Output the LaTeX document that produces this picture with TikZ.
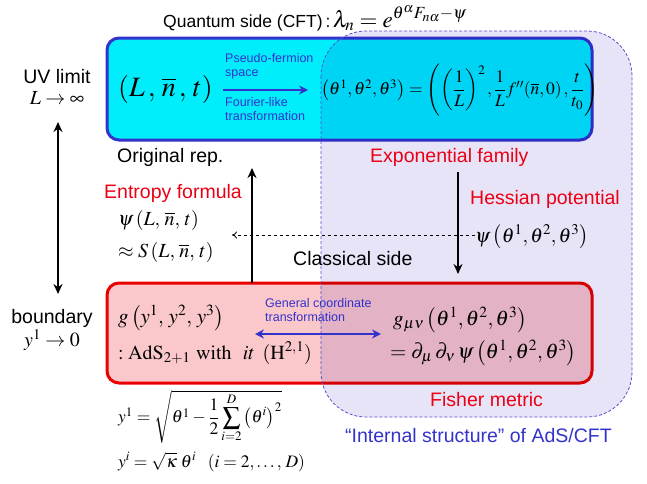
\documentclass[tikz,border=0pt]{standalone}
\usepackage{amsmath}
\usepackage{mathptmx}
\usepackage[no-math]{fontspec}
\setmainfont{Liberation Sans}
\usetikzlibrary{arrows.meta}
\definecolor{cyanfill}{RGB}{0,238,252}
\definecolor{boxblue}{RGB}{51,51,204}
\definecolor{pinkfill}{RGB}{250,200,202}
\definecolor{boxred}{RGB}{235,0,0}
\definecolor{txtred}{RGB}{235,0,20}
\definecolor{lav}{RGB}{232,228,248}
\definecolor{lavline}{RGB}{80,80,210}
\begin{document}
\begin{tikzpicture}[x=1pt,y=-1pt,
  lbl/.style={font=\fontsize{19.5}{21}\selectfont, inner sep=0pt},
  redlbl/.style={lbl, text=txtred},
  smallblue/.style={font=\fontsize{12.5}{14.5}\selectfont, text=boxblue, inner sep=0pt, align=left},
  mth/.style={font=\fontsize{20}{22}\selectfont, inner sep=0pt},
  bmth/.style={font=\fontsize{21}{23}\selectfont, inner sep=0pt},
  bigmth/.style={font=\fontsize{28}{30}\selectfont, inner sep=0pt},
  midmth/.style={font=\fontsize{17.5}{19}\selectfont, inner sep=0pt},
  bigarrow/.style={line width=2.6pt, -{Stealth[length=10pt,width=9pt]}},
  bluearrow/.style={boxblue, line width=2.8pt, -{Stealth[length=9pt,width=9pt]}},
  blueboth/.style={boxblue, line width=2.4pt, {Stealth[length=9pt,width=9pt]}-{Stealth[length=9pt,width=9pt]}},
  blackboth/.style={line width=2.4pt, {Stealth[length=10pt,width=9pt]}-{Stealth[length=10pt,width=9pt]}},
  dasharrow/.style={dashed, line width=0.8pt, -{To[length=5pt,width=7pt]}},
  bluebox/.style={draw=boxblue, line width=3pt, fill=cyanfill, rounded corners=12pt},
  redbox/.style={draw=boxred, line width=3pt, fill=pinkfill, rounded corners=12pt},
  region/.style={rounded corners=45pt},
]
\useasboundingbox (0,0) rectangle (647,483);

% boxes
\draw[bluebox] (107,38) rectangle (592,140);
\draw[redbox] (107,283) rectangle (592,383);
\begin{scope}[blend mode=multiply]
\fill[lav, region] (321,31) rectangle (632,417);
\end{scope}
\draw[lavline, region, line width=0.8pt, dash pattern=on 3pt off 2pt] (321,31) rectangle (632,417);

% title
\node[font=\fontsize{17.5}{19}\selectfont, inner sep=0pt, anchor=base west] (qs) at (163,27) {Quantum side (CFT)\,:};
\node[anchor=base west, font=\fontsize{23}{25}\selectfont, inner sep=0pt] (lam) at ([xshift=2pt]qs.base east) {$\lambda_n = e^{\theta^\alpha F_{n\alpha}-\psi}$};

% left side
\node[lbl] (uv) at (57,77) {UV limit};
\node[mth] (linf) at (57,98) {$L\to\infty$};
\node[lbl] (bd) at (52,318) {boundary};
\node[mth] (y0) at (52,340) {$y^1\to 0$};
\coordinate (lat) at (58,122);
\coordinate (lab) at (58,294);
\draw[blackboth] (lat) -- (lab);

% blue box content
\node[bigmth, anchor=west] (lnt) at (118,89) {$\left(L\,,\,\overline{n}\,,\,t\right)$};
\node[smallblue, anchor=north west] (pf) at (225,53) {Pseudo-fermion\\space};
\node[smallblue, anchor=north west] (fl) at (225,97) {Fourier-like\\transformation};
\coordinate (ba1) at (223,90);
\coordinate (ba2) at (308,90);
\draw[bluearrow] (ba1) -- (ba2);
\node[midmth, anchor=west] (theta) at (321,90) {$\left(\theta^1,\theta^2,\theta^3\right)=\left(\left(\dfrac{1}{L}\right)^{2},\dfrac{1}{L}f''\!\left(\overline{n},0\right),\dfrac{t}{t_0}\right)$};

% middle
\node[lbl, anchor=west] (orig) at (117,157) {Original rep.};
\node[redlbl, anchor=west] (expf) at (370,157) {Exponential family};
\node[redlbl, anchor=west] (entr) at (104,193) {Entropy formula};
\node[redlbl, anchor=west] (hess) at (470,199) {Hessian potential};
\node[mth, anchor=west] (psiL) at (118,220) {$\psi\left(L,\,\overline{n},\,t\right)$};
\node[mth, anchor=west] (SL) at (118,252) {$\approx S\left(L,\,\overline{n},\,t\right)$};
\node[mth, anchor=west] (psith) at (475,237) {$\psi\left(\theta^1,\theta^2,\theta^3\right)$};
\node[lbl, anchor=west] (cls) at (293,259) {Classical side};
\coordinate (upb) at (252,283);
\coordinate (upt) at (252,168);
\draw[bigarrow] (upb) -- (upt);
\coordinate (dnt) at (458,172);
\coordinate (dnb) at (458,274);
\draw[bigarrow] (dnt) -- (dnb);
\coordinate (dae) at (232,235);
\draw[dasharrow] (psith.west |- dae) -- (dae);

% red box content
\node[bmth, anchor=west] (gy) at (118,318) {$g\left(y^1,\,y^2,\,y^3\right)$};
\node[mth, anchor=west] (ads) at (118,353) {$:\mathrm{AdS}_{2+1}\ \mathrm{with}\ \ it\ \,(\mathrm{H}^{2,1})$};
\node[smallblue, anchor=north west] (gct) at (265,298) {General coordinate\\transformation};
\coordinate (da1) at (255,334);
\coordinate (da2) at (381,334);
\draw[blueboth] (da1) -- (da2);
\node[bmth, anchor=west] (gmn) at (393,320) {$g_{\mu\nu}\left(\theta^1,\theta^2,\theta^3\right)$};
\node[bmth, anchor=west] (dpsi) at (390,353) {$=\partial_\mu\,\partial_\nu\,\psi\left(\theta^1,\theta^2,\theta^3\right)$};

% bottom
\node[redlbl, anchor=west] (fish) at (430,400) {Fisher metric};
\node[lbl, anchor=west, text=boxblue] (intl) at (345,436) {``Internal structure'' of AdS/CFT};
\node[midmth, anchor=west] (y1) at (118,417) {$y^1=\sqrt{\theta^1-\dfrac{1}{2}\displaystyle\sum_{i=2}^{D}\left(\theta^i\right)^2}$};
\node[midmth, anchor=west] (yi) at (118,462) {$y^i=\sqrt{\kappa}\;\theta^i\ \ \left(i=2,\ldots,\,D\right)$};
\end{tikzpicture}
\end{document}
